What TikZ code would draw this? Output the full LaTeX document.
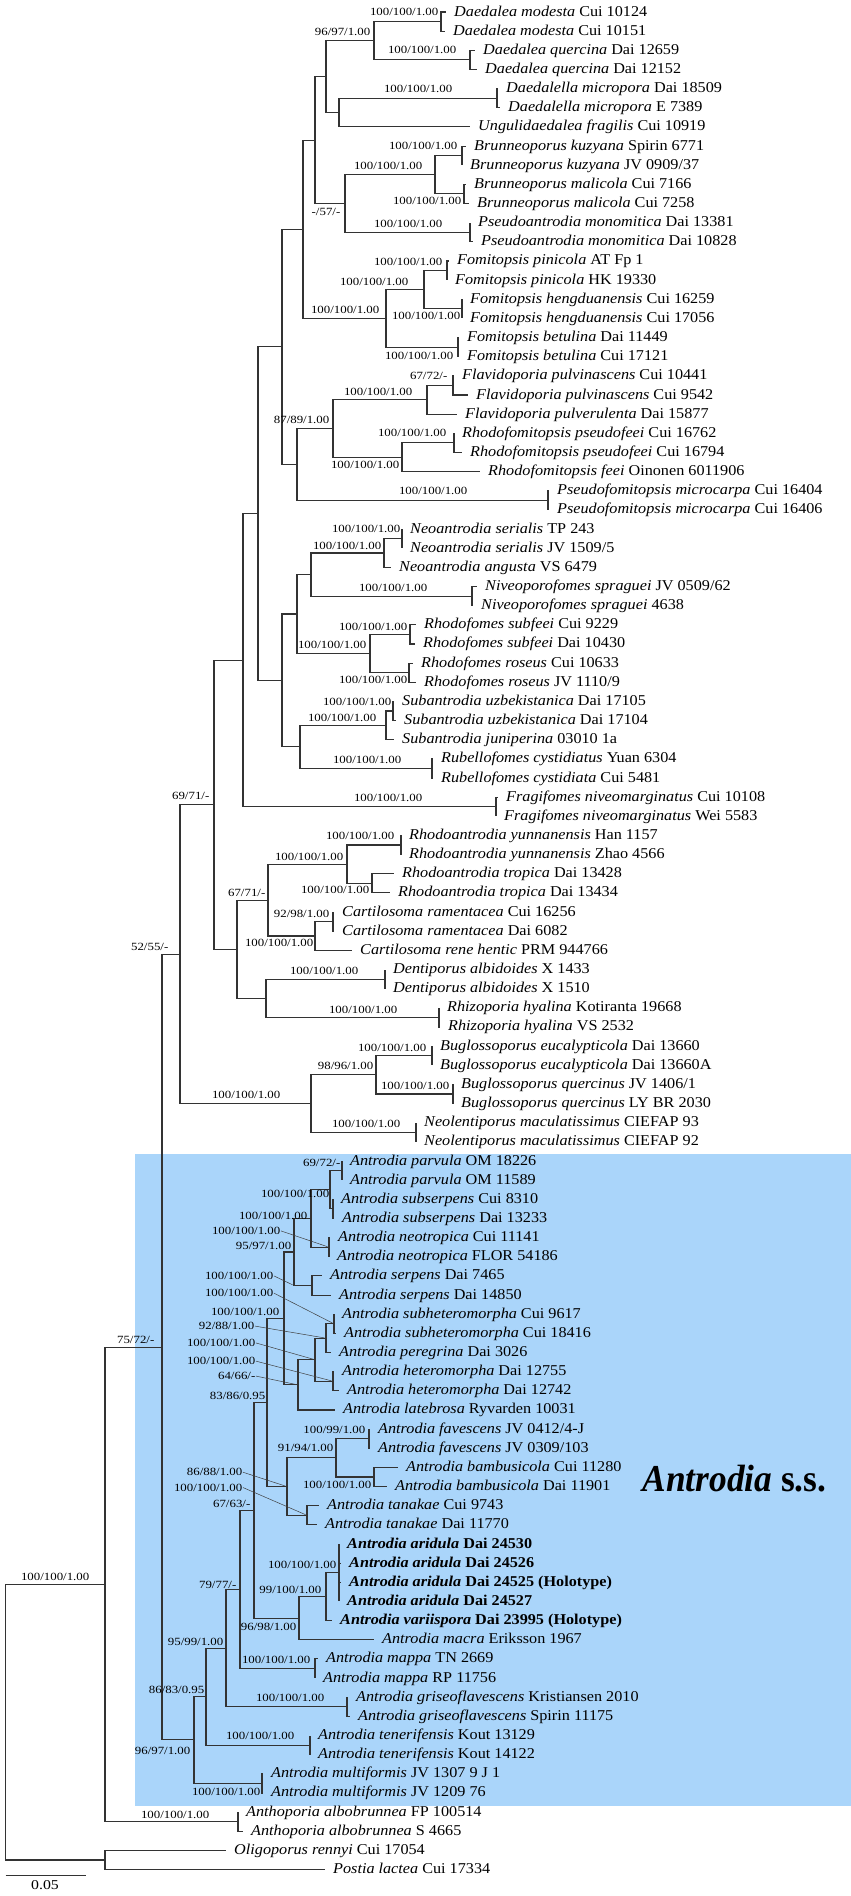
\documentclass[tikz,border=0pt]{standalone}
\usepackage{fontspec}
\setmainfont{Liberation Serif}
\newfontfamily\leaffont[FakeStretch=1.08]{Liberation Serif}
\newfontfamily\suppfont[FakeStretch=1.17]{Liberation Serif}
\newfontfamily\cladefont[FakeStretch=0.93]{Liberation Serif}
\definecolor{ssblue}{RGB}{170,213,250}
\newcommand{\taxon}[2]{\textit{#1} #2}
\newcommand{\newtaxon}[2]{\textbf{\textit{#1} #2}}
\tikzset{
  branch/.style={draw=black!80, line width=1.1bp},
  leader/.style={draw=black!75, line width=0.5bp, shorten >=1.5bp},
  leaf/.style={anchor=west, inner xsep=8bp, inner ysep=0pt, text height=8bp, text depth=0pt,
    font=\leaffont\fontsize{15bp}{17bp}\selectfont},
  supp/.style={anchor=east, inner sep=0.5bp, text height=7.3bp, text depth=0pt,
    font=\suppfont\fontsize{11bp}{12bp}\selectfont},
}

\begin{document}
\begin{tikzpicture}[x=1bp, y=-19.15bp]
  \useasboundingbox (0,0.3734) rectangle (851,99.38);
  \fill[ssblue] (135,60.64) rectangle (851,94.68);

  % leaves
  \node[leaf] (l1) at (446,1){\taxon{Daedalea modesta}{Cui 10124}};
  \node[leaf] (l2) at (445,2){\taxon{Daedalea modesta}{Cui 10151}};
  \node[leaf] (l3) at (475,3){\taxon{Daedalea quercina}{Dai 12659}};
  \node[leaf] (l4) at (477,4){\taxon{Daedalea quercina}{Dai 12152}};
  \node[leaf] (l5) at (498,5){\taxon{Daedalella micropora}{Dai 18509}};
  \node[leaf] (l6) at (500,6){\taxon{Daedalella micropora}{E 7389}};
  \node[leaf] (l7) at (470,7){\taxon{Ungulidaedalea fragilis}{Cui 10919}};
  \node[leaf] (l8) at (466,8){\taxon{Brunneoporus kuzyana}{Spirin 6771}};
  \node[leaf] (l9) at (462,9){\taxon{Brunneoporus kuzyana}{JV 0909/37}};
  \node[leaf] (l10) at (466,10){\taxon{Brunneoporus malicola}{Cui 7166}};
  \node[leaf] (l11) at (469,11){\taxon{Brunneoporus malicola}{Cui 7258}};
  \node[leaf] (l12) at (470,12){\taxon{Pseudoantrodia monomitica}{Dai 13381}};
  \node[leaf] (l13) at (473,13){\taxon{Pseudoantrodia monomitica}{Dai 10828}};
  \node[leaf] (l14) at (449,14){\taxon{Fomitopsis pinicola}{AT Fp 1}};
  \node[leaf] (l15) at (447,15){\taxon{Fomitopsis pinicola}{HK 19330}};
  \node[leaf] (l16) at (462,16){\taxon{Fomitopsis hengduanensis}{Cui 16259}};
  \node[leaf] (l17) at (462,17){\taxon{Fomitopsis hengduanensis}{Cui 17056}};
  \node[leaf] (l18) at (459,18){\taxon{Fomitopsis betulina}{Dai 11449}};
  \node[leaf] (l19) at (459,19){\taxon{Fomitopsis betulina}{Cui 17121}};
  \node[leaf] (l20) at (454,20){\taxon{Flavidoporia pulvinascens}{Cui 10441}};
  \node[leaf] (l21) at (468,21){\taxon{Flavidoporia pulvinascens}{Cui 9542}};
  \node[leaf] (l22) at (457,22){\taxon{Flavidoporia pulverulenta}{Dai 15877}};
  \node[leaf] (l23) at (454,23){\taxon{Rhodofomitopsis pseudofeei}{Cui 16762}};
  \node[leaf] (l24) at (462,24){\taxon{Rhodofomitopsis pseudofeei}{Cui 16794}};
  \node[leaf] (l25) at (480,25){\taxon{Rhodofomitopsis feei}{Oinonen 6011906}};
  \node[leaf] (l26) at (549,26){\taxon{Pseudofomitopsis microcarpa}{Cui 16404}};
  \node[leaf] (l27) at (549,27){\taxon{Pseudofomitopsis microcarpa}{Cui 16406}};
  \node[leaf] (l28) at (402,28){\taxon{Neoantrodia serialis}{TP 243}};
  \node[leaf] (l29) at (402,29){\taxon{Neoantrodia serialis}{JV 1509/5}};
  \node[leaf] (l30) at (391,30){\taxon{Neoantrodia angusta}{VS 6479}};
  \node[leaf] (l31) at (477,31){\taxon{Niveoporofomes spraguei}{JV 0509/62}};
  \node[leaf] (l32) at (473,32){\taxon{Niveoporofomes spraguei}{4638}};
  \node[leaf] (l33) at (416,33){\taxon{Rhodofomes subfeei}{Cui 9229}};
  \node[leaf] (l34) at (415,34){\taxon{Rhodofomes subfeei}{Dai 10430}};
  \node[leaf] (l35) at (413,35){\taxon{Rhodofomes roseus}{Cui 10633}};
  \node[leaf] (l36) at (416,36){\taxon{Rhodofomes roseus}{JV 1110/9}};
  \node[leaf] (l37) at (394,37){\taxon{Subantrodia uzbekistanica}{Dai 17105}};
  \node[leaf] (l38) at (396,38){\taxon{Subantrodia uzbekistanica}{Dai 17104}};
  \node[leaf] (l39) at (394,39){\taxon{Subantrodia juniperina}{03010 1a}};
  \node[leaf] (l40) at (433,40){\taxon{Rubellofomes cystidiatus}{Yuan 6304}};
  \node[leaf] (l41) at (433,41){\taxon{Rubellofomes cystidiata}{Cui 5481}};
  \node[leaf] (l42) at (498,42){\taxon{Fragifomes niveomarginatus}{Cui 10108}};
  \node[leaf] (l43) at (496,43){\taxon{Fragifomes niveomarginatus}{Wei 5583}};
  \node[leaf] (l44) at (401,44){\taxon{Rhodoantrodia yunnanensis}{Han 1157}};
  \node[leaf] (l45) at (401,45){\taxon{Rhodoantrodia yunnanensis}{Zhao 4566}};
  \node[leaf] (l46) at (394,46){\taxon{Rhodoantrodia tropica}{Dai 13428}};
  \node[leaf] (l47) at (390,47){\taxon{Rhodoantrodia tropica}{Dai 13434}};
  \node[leaf] (l48) at (334,48){\taxon{Cartilosoma ramentacea}{Cui 16256}};
  \node[leaf] (l49) at (334,49){\taxon{Cartilosoma ramentacea}{Dai 6082}};
  \node[leaf] (l50) at (352,50){\taxon{Cartilosoma rene hentic}{PRM 944766}};
  \node[leaf] (l51) at (385,51){\taxon{Dentiporus albidoides}{X 1433}};
  \node[leaf] (l52) at (385,52){\taxon{Dentiporus albidoides}{X 1510}};
  \node[leaf] (l53) at (439,53){\taxon{Rhizoporia hyalina}{Kotiranta 19668}};
  \node[leaf] (l54) at (440,54){\taxon{Rhizoporia hyalina}{VS 2532}};
  \node[leaf] (l55) at (432,55){\taxon{Buglossoporus eucalypticola}{Dai 13660}};
  \node[leaf] (l56) at (432,56){\taxon{Buglossoporus eucalypticola}{Dai 13660A}};
  \node[leaf] (l57) at (453,57){\taxon{Buglossoporus quercinus}{JV 1406/1}};
  \node[leaf] (l58) at (453,58){\taxon{Buglossoporus quercinus}{LY BR 2030}};
  \node[leaf] (l59) at (416,59){\taxon{Neolentiporus maculatissimus}{CIEFAP 93}};
  \node[leaf] (l60) at (416,60){\taxon{Neolentiporus maculatissimus}{CIEFAP 92}};
  \node[leaf] (l61) at (342,61){\taxon{Antrodia parvula}{OM 18226}};
  \node[leaf] (l62) at (342,62){\taxon{Antrodia parvula}{OM 11589}};
  \node[leaf] (l63) at (333,63){\taxon{Antrodia subserpens}{Cui 8310}};
  \node[leaf] (l64) at (334,64){\taxon{Antrodia subserpens}{Dai 13233}};
  \node[leaf] (l65) at (330,65){\taxon{Antrodia neotropica}{Cui 11141}};
  \node[leaf] (l66) at (329,66){\taxon{Antrodia neotropica}{FLOR 54186}};
  \node[leaf] (l67) at (322,67){\taxon{Antrodia serpens}{Dai 7465}};
  \node[leaf] (l68) at (331,68){\taxon{Antrodia serpens}{Dai 14850}};
  \node[leaf] (l69) at (334,69){\taxon{Antrodia subheteromorpha}{Cui 9617}};
  \node[leaf] (l70) at (336,70){\taxon{Antrodia subheteromorpha}{Cui 18416}};
  \node[leaf] (l71) at (331,71){\taxon{Antrodia peregrina}{Dai 3026}};
  \node[leaf] (l72) at (334,72){\taxon{Antrodia heteromorpha}{Dai 12755}};
  \node[leaf] (l73) at (339,73){\taxon{Antrodia heteromorpha}{Dai 12742}};
  \node[leaf] (l74) at (335,74){\taxon{Antrodia latebrosa}{Ryvarden 10031}};
  \node[leaf] (l75) at (370,75){\taxon{Antrodia favescens}{JV 0412/4-J}};
  \node[leaf] (l76) at (370,76){\taxon{Antrodia favescens}{JV 0309/103}};
  \node[leaf] (l77) at (398,77){\taxon{Antrodia bambusicola}{Cui 11280}};
  \node[leaf] (l78) at (387,78){\taxon{Antrodia bambusicola}{Dai 11901}};
  \node[leaf] (l79) at (319,79){\taxon{Antrodia tanakae}{Cui 9743}};
  \node[leaf] (l80) at (317,80){\taxon{Antrodia tanakae}{Dai 11770}};
  \node[leaf] (l81) at (339,81){\newtaxon{Antrodia aridula}{Dai 24530}};
  \node[leaf] (l82) at (341,82){\newtaxon{Antrodia aridula}{Dai 24526}};
  \node[leaf] (l83) at (341,83){\newtaxon{Antrodia aridula}{Dai 24525 (Holotype)}};
  \node[leaf] (l84) at (339,84){\newtaxon{Antrodia aridula}{Dai 24527}};
  \node[leaf] (l85) at (332,85){\newtaxon{Antrodia variispora}{Dai 23995 (Holotype)}};
  \node[leaf] (l86) at (374,86){\taxon{Antrodia macra}{Eriksson 1967}};
  \node[leaf] (l87) at (318,87){\taxon{Antrodia mappa}{TN 2669}};
  \node[leaf] (l88) at (315,88){\taxon{Antrodia mappa}{RP 11756}};
  \node[leaf] (l89) at (348,89){\taxon{Antrodia griseoflavescens}{Kristiansen 2010}};
  \node[leaf] (l90) at (350,90){\taxon{Antrodia griseoflavescens}{Spirin 11175}};
  \node[leaf] (l91) at (310,91){\taxon{Antrodia tenerifensis}{Kout 13129}};
  \node[leaf] (l92) at (310,92){\taxon{Antrodia tenerifensis}{Kout 14122}};
  \node[leaf] (l93) at (263,93){\taxon{Antrodia multiformis}{JV 1307 9 J 1}};
  \node[leaf] (l94) at (263,94){\taxon{Antrodia multiformis}{JV 1209 76}};
  \node[leaf] (l95) at (238,95){\taxon{Anthoporia albobrunnea}{FP 100514}};
  \node[leaf] (l96) at (243,96){\taxon{Anthoporia albobrunnea}{S 4665}};
  \node[leaf] (l97) at (226,97){\taxon{Oligoporus rennyi}{Cui 17054}};
  \node[leaf] (l98) at (325,98){\taxon{Postia lactea}{Cui 17334}};

  % internal nodes
  \coordinate (dmod) at (441,1.5);
  \coordinate (dque) at (470,3.5);
  \coordinate (daed) at (374,2.5);
  \coordinate (dmic) at (497,5.5);
  \coordinate (dmu) at (339,6.25);
  \coordinate (dgrp) at (326,4.375);
  \coordinate (bkuz) at (462,8.5);
  \coordinate (bmal) at (464,10.5);
  \coordinate (brun) at (435,9.5);
  \coordinate (pmon) at (470,12.5);
  \coordinate (bpgrp) at (345,11);
  \coordinate (dbgrp) at (315,7.6875);
  \coordinate (fpin) at (447,14.5);
  \coordinate (fhen) at (462,16.5);
  \coordinate (fph) at (424,15.5);
  \coordinate (fbet) at (458,18.5);
  \coordinate (fomi) at (386,17);
  \coordinate (n13) at (303,12.344);
  \coordinate (fpul) at (453,20.5);
  \coordinate (flav) at (427,21.25);
  \coordinate (rpse) at (454,23.5);
  \coordinate (rhfo) at (402,24.25);
  \coordinate (n24) at (333,22.75);
  \coordinate (pfom) at (548,26.5);
  \coordinate (n26) at (297,24.625);
  \coordinate (n19) at (282,18.484);
  \coordinate (nser) at (402,28.5);
  \coordinate (neoa) at (384,29.25);
  \coordinate (nivo) at (472,31.5);
  \coordinate (n31) at (311,30.375);
  \coordinate (rsub) at (410,33.5);
  \coordinate (rros) at (409,35.5);
  \coordinate (rhod) at (370,34.5);
  \coordinate (n35) at (297,32.4375);
  \coordinate (suzb) at (393,37.5);
  \coordinate (suba) at (386,38.25);
  \coordinate (rube) at (432,40.5);
  \coordinate (n39) at (300,39.375);
  \coordinate (n40) at (282,35.906);
  \coordinate (n27) at (258,27.195);
  \coordinate (frag) at (496,42.5);
  \coordinate (n41) at (243,34.85);
  \coordinate (ryun) at (401,44.5);
  \coordinate (rtro) at (372,46.5);
  \coordinate (rhan) at (347,45.5);
  \coordinate (cram) at (333,48.5);
  \coordinate (cart) at (315,49.25);
  \coordinate (n49) at (268,47.375);
  \coordinate (dent) at (385,51.5);
  \coordinate (rhiz) at (439,53.5);
  \coordinate (n52) at (266,52.5);
  \coordinate (n43) at (237,49.94);
  \coordinate (nD) at (214,42.39);
  \coordinate (beuc) at (432,55.5);
  \coordinate (bque) at (453,57.5);
  \coordinate (bugl) at (376,56.5);
  \coordinate (neol) at (416,59.5);
  \coordinate (nE) at (311,58);
  \coordinate (nC) at (180,50.2);
  \coordinate (parv) at (342,61.5);
  \coordinate (subs) at (333,63.5);
  \coordinate (ps) at (330,62.5);
  \coordinate (neot) at (329,65.5);
  \coordinate (n56) at (311,64);
  \coordinate (serp) at (312,67.5);
  \coordinate (n58) at (294,65.75);
  \coordinate (serpj) at (294,67.5);
  \coordinate (shet) at (334,69.5);
  \coordinate (shp) at (326,70.25);
  \coordinate (hete) at (333,72.5);
  \coordinate (n60) at (315,71.375);
  \coordinate (n61) at (298,72.69);
  \coordinate (n62) at (284,69.22);
  \coordinate (fave) at (369,75.5);
  \coordinate (bamb) at (374,77.5);
  \coordinate (fb) at (336,76.5);
  \coordinate (tana) at (307,79.5);
  \coordinate (n64) at (287,78);
  \coordinate (n63) at (267,73.61);
  \coordinate (arid) at (339,82.5);
  \coordinate (av) at (326,83.75);
  \coordinate (n67) at (299,84.875);
  \coordinate (n65) at (254,79.24);
  \coordinate (mapp) at (315,87.5);
  \coordinate (n68) at (240,83.37);
  \coordinate (gris) at (347,89.5);
  \coordinate (n69) at (226,86.44);
  \coordinate (tene) at (310,91.5);
  \coordinate (n70) at (206,88.97);
  \coordinate (mult) at (262,93.5);
  \coordinate (n71) at (194,91.23);
  \coordinate (nB) at (162,70.72);
  \coordinate (anth) at (238,95.5);
  \coordinate (nA) at (105,83.11);
  \coordinate (outg) at (105,97.5);
  \coordinate (root) at (5.5,90.3);

  % branches
  \draw[branch] (dmod) |- (l1.west) (dmod) |- (l2.west);
  \draw[branch] (dque) |- (l3.west) (dque) |- (l4.west);
  \draw[branch] (daed) |- (dmod) (daed) |- (dque);
  \draw[branch] (dmic) |- (l5.west) (dmic) |- (l6.west);
  \draw[branch] (dmu) |- (dmic) (dmu) |- (l7.west);
  \draw[branch] (dgrp) |- (daed) (dgrp) |- (dmu);
  \draw[branch] (bkuz) |- (l8.west) (bkuz) |- (l9.west);
  \draw[branch] (bmal) |- (l10.west) (bmal) |- (l11.west);
  \draw[branch] (brun) |- (bkuz) (brun) |- (bmal);
  \draw[branch] (pmon) |- (l12.west) (pmon) |- (l13.west);
  \draw[branch] (bpgrp) |- (brun) (bpgrp) |- (pmon);
  \draw[branch] (dbgrp) |- (dgrp) (dbgrp) |- (bpgrp);
  \draw[branch] (fpin) |- (l14.west) (fpin) |- (l15.west);
  \draw[branch] (fhen) |- (l16.west) (fhen) |- (l17.west);
  \draw[branch] (fph) |- (fpin) (fph) |- (fhen);
  \draw[branch] (fbet) |- (l18.west) (fbet) |- (l19.west);
  \draw[branch] (fomi) |- (fph) (fomi) |- (fbet);
  \draw[branch] (n13) |- (dbgrp) (n13) |- (fomi);
  \draw[branch] (fpul) |- (l20.west) (fpul) |- (l21.west);
  \draw[branch] (flav) |- (fpul) (flav) |- (l22.west);
  \draw[branch] (rpse) |- (l23.west) (rpse) |- (l24.west);
  \draw[branch] (rhfo) |- (rpse) (rhfo) |- (l25.west);
  \draw[branch] (n24) |- (flav) (n24) |- (rhfo);
  \draw[branch] (pfom) |- (l26.west) (pfom) |- (l27.west);
  \draw[branch] (n26) |- (n24) (n26) |- (pfom);
  \draw[branch] (n19) |- (n13) (n19) |- (n26);
  \draw[branch] (nser) |- (l28.west) (nser) |- (l29.west);
  \draw[branch] (neoa) |- (nser) (neoa) |- (l30.west);
  \draw[branch] (nivo) |- (l31.west) (nivo) |- (l32.west);
  \draw[branch] (n31) |- (neoa) (n31) |- (nivo);
  \draw[branch] (rsub) |- (l33.west) (rsub) |- (l34.west);
  \draw[branch] (rros) |- (l35.west) (rros) |- (l36.west);
  \draw[branch] (rhod) |- (rsub) (rhod) |- (rros);
  \draw[branch] (n35) |- (n31) (n35) |- (rhod);
  \draw[branch] (suzb) |- (l37.west) (suzb) |- (l38.west);
  \draw[branch] (suba) |- (suzb) (suba) |- (l39.west);
  \draw[branch] (rube) |- (l40.west) (rube) |- (l41.west);
  \draw[branch] (n39) |- (suba) (n39) |- (rube);
  \draw[branch] (n40) |- (n35) (n40) |- (n39);
  \draw[branch] (n27) |- (n19) (n27) |- (n40);
  \draw[branch] (frag) |- (l42.west) (frag) |- (l43.west);
  \draw[branch] (n41) |- (n27) (n41) |- (frag);
  \draw[branch] (ryun) |- (l44.west) (ryun) |- (l45.west);
  \draw[branch] (rtro) |- (l46.west) (rtro) |- (l47.west);
  \draw[branch] (rhan) |- (ryun) (rhan) |- (rtro);
  \draw[branch] (cram) |- (l48.west) (cram) |- (l49.west);
  \draw[branch] (cart) |- (cram) (cart) |- (l50.west);
  \draw[branch] (n49) |- (rhan) (n49) |- (cart);
  \draw[branch] (dent) |- (l51.west) (dent) |- (l52.west);
  \draw[branch] (rhiz) |- (l53.west) (rhiz) |- (l54.west);
  \draw[branch] (n52) |- (dent) (n52) |- (rhiz);
  \draw[branch] (n43) |- (n49) (n43) |- (n52);
  \draw[branch] (nD) |- (n41) (nD) |- (n43);
  \draw[branch] (beuc) |- (l55.west) (beuc) |- (l56.west);
  \draw[branch] (bque) |- (l57.west) (bque) |- (l58.west);
  \draw[branch] (bugl) |- (beuc) (bugl) |- (bque);
  \draw[branch] (neol) |- (l59.west) (neol) |- (l60.west);
  \draw[branch] (nE) |- (bugl) (nE) |- (neol);
  \draw[branch] (nC) |- (nD) (nC) |- (nE);
  \draw[branch] (parv) |- (l61.west) (parv) |- (l62.west);
  \draw[branch] (subs) |- (l63.west) (subs) |- (l64.west);
  \draw[branch] (ps) |- (parv) (ps) |- (subs);
  \draw[branch] (neot) |- (l65.west) (neot) |- (l66.west);
  \draw[branch] (n56) |- (ps) (n56) |- (neot);
  \draw[branch] (serp) |- (l67.west) (serp) |- (l68.west);
  \draw[branch] (n58) |- (n56) (n58) |- (serp);
  \draw[branch] (shet) |- (l69.west) (shet) |- (l70.west);
  \draw[branch] (shp) |- (shet) (shp) |- (l71.west);
  \draw[branch] (hete) |- (l72.west) (hete) |- (l73.west);
  \draw[branch] (n60) |- (shp) (n60) |- (hete);
  \draw[branch] (n61) |- (n60) (n61) |- (l74.west);
  \draw[branch] (n62) |- (n58) (n62) |- (n61);
  \draw[branch] (fave) |- (l75.west) (fave) |- (l76.west);
  \draw[branch] (bamb) |- (l77.west) (bamb) |- (l78.west);
  \draw[branch] (fb) |- (fave) (fb) |- (bamb);
  \draw[branch] (tana) |- (l79.west) (tana) |- (l80.west);
  \draw[branch] (n64) |- (fb) (n64) |- (tana);
  \draw[branch] (n63) |- (n62) (n63) |- (n64);
  \draw[branch] (arid) |- (l81.west) (arid) |- (l82.west) (arid) |- (l83.west) (arid) |- (l84.west);
  \draw[branch] (av) |- (arid) (av) |- (l85.west);
  \draw[branch] (n67) |- (av) (n67) |- (l86.west);
  \draw[branch] (n65) |- (n63) (n65) |- (n67);
  \draw[branch] (mapp) |- (l87.west) (mapp) |- (l88.west);
  \draw[branch] (n68) |- (n65) (n68) |- (mapp);
  \draw[branch] (gris) |- (l89.west) (gris) |- (l90.west);
  \draw[branch] (n69) |- (n68) (n69) |- (gris);
  \draw[branch] (tene) |- (l91.west) (tene) |- (l92.west);
  \draw[branch] (n70) |- (n69) (n70) |- (tene);
  \draw[branch] (mult) |- (l93.west) (mult) |- (l94.west);
  \draw[branch] (n71) |- (n70) (n71) |- (mult);
  \draw[branch] (nB) |- (nC) (nB) |- (n71);
  \draw[branch] (anth) |- (l95.west) (anth) |- (l96.west);
  \draw[branch] (nA) |- (nB) (nA) |- (anth);
  \draw[branch] (outg) |- (l97.west) (outg) |- (l98.west);
  \draw[branch] (root) |- (nA) (root) |- (outg);

  % support values
  \node[supp] (s1) at (439,1.0){100/100/1.00};
  \node[supp] (s2) at (371,2.04){96/97/1.00};
  \node[supp] (s3) at (457,2.98){100/100/1.00};
  \node[supp] (s4) at (453,5.02){100/100/1.00};
  \node[supp] (s5) at (458,8.0){100/100/1.00};
  \node[supp] (s6) at (423,9.04){100/100/1.00};
  \node[supp] (s7) at (462,10.87){100/100/1.00};
  \node[supp] (s8) at (341,11.44){-/57/-};
  \node[supp] (s9) at (443,12.07){100/100/1.00};
  \node[supp] (s10) at (443,14.05){100/100/1.00};
  \node[supp] (s11) at (409,15.1){100/100/1.00};
  \node[supp] (s12) at (461,16.87){100/100/1.00};
  \node[supp] (s13) at (380,16.56){100/100/1.00};
  \node[supp] (s14) at (454,18.96){100/100/1.00};
  \node[supp] (s15) at (448,20.0){67/72/-};
  \node[supp] (s16) at (413,20.84){100/100/1.00};
  \node[supp] (s17) at (330,22.3){87/89/1.00};
  \node[supp] (s18) at (447,23.0){100/100/1.00};
  \node[supp] (s19) at (400,24.66){100/100/1.00};
  \node[supp] (s20) at (468,26.01){100/100/1.00};
  \node[supp] (s21) at (401,28.0){100/100/1.00};
  \node[supp] (s22) at (382,28.88){100/100/1.00};
  \node[supp] (s23) at (428,31.08){100/100/1.00};
  \node[supp] (s24) at (408,33.1){100/100/1.00};
  \node[supp] (s25) at (367,34.05){100/100/1.00};
  \node[supp] (s26) at (408,35.88){100/100/1.00};
  \node[supp] (s27) at (392,37.03){100/100/1.00};
  \node[supp] (s28) at (377,37.87){100/100/1.00};
  \node[supp] (s29) at (402,40.06){100/100/1.00};
  \node[supp] (s30) at (423,42.04){100/100/1.00};
  \node[supp] (s31) at (210,41.95){69/71/-};
  \node[supp] (s32) at (395,44.03){100/100/1.00};
  \node[supp] (s33) at (344,45.1){100/100/1.00};
  \node[supp] (s34) at (370,46.85){100/100/1.00};
  \node[supp] (s35) at (266,47.0){67/71/-};
  \node[supp] (s36) at (330,48.1){92/98/1.00};
  \node[supp] (s37) at (314,49.62){100/100/1.00};
  \node[supp] (s38) at (169,49.82){52/55/-};
  \node[supp] (s39) at (359,51.08){100/100/1.00};
  \node[supp] (s40) at (398,53.11){100/100/1.00};
  \node[supp] (s41) at (427,55.1){100/100/1.00};
  \node[supp] (s42) at (374,56.04){98/96/1.00};
  \node[supp] (s43) at (450,57.08){100/100/1.00};
  \node[supp] (s44) at (281,57.55){100/100/1.00};
  \node[supp] (s45) at (401,59.07){100/100/1.00};
  \node[supp] (s46) at (341,61.1){69/72/-};
  \node[supp] (s47) at (330,62.72){100/100/1.00};
  \node[supp] (s48) at (308,63.87){100/100/1.00};
  \node[supp] (s49) at (281,64.65){100/100/1.00};
  \node[supp] (s50) at (292,65.44){95/97/1.00};
  \node[supp] (s51) at (274,67.0){100/100/1.00};
  \node[supp] (s52) at (274,67.9){100/100/1.00};
  \node[supp] (s53) at (280,68.88){100/100/1.00};
  \node[supp] (s54) at (255,69.62){92/88/1.00};
  \node[supp] (s55) at (256,70.5){100/100/1.00};
  \node[supp] (s56) at (256,71.45){100/100/1.00};
  \node[supp] (s57) at (256,72.23){64/66/-};
  \node[supp] (s58) at (266,73.27){83/86/0.95};
  \node[supp] (s59) at (366,75.05){100/99/1.00};
  \node[supp] (s60) at (334,76.0){91/94/1.00};
  \node[supp] (s61) at (372,77.9){100/100/1.00};
  \node[supp] (s62) at (243,77.25){86/88/1.00};
  \node[supp] (s63) at (243,78.05){100/100/1.00};
  \node[supp] (s64) at (251,78.91){67/63/-};
  \node[supp] (s65) at (337,82.1){100/100/1.00};
  \node[supp] (s66) at (237,83.14){79/77/-};
  \node[supp] (s67) at (322,83.4){99/100/1.00};
  \node[supp] (s68) at (297,85.33){96/98/1.00};
  \node[supp] (s69) at (224,86.1){95/99/1.00};
  \node[supp] (s70) at (311,87.06){100/100/1.00};
  \node[supp] (s71) at (205,88.62){86/83/0.95};
  \node[supp] (s72) at (325,89.04){100/100/1.00};
  \node[supp] (s73) at (295,91.03){100/100/1.00};
  \node[supp] (s74) at (191,91.81){96/97/1.00};
  \node[supp] (s75) at (261,93.95){100/100/1.00};
  \node[supp] (s76) at (155,70.35){75/72/-};
  \node[supp] (s77) at (90,82.7){100/100/1.00};
  \node[supp] (s78) at (210,95.15){100/100/1.00};

  % leader lines
  \draw[leader] (s49.east) -- (neot);
  \draw[leader] (s51.east) -- (serpj);
  \draw[leader] (s52.east) -- (shet);
  \draw[leader] (s54.east) -- (shp);
  \draw[leader] (s55.east) -- (n60);
  \draw[leader] (s56.east) -- (hete);
  \draw[leader] (s57.east) -- (n61);
  \draw[leader] (s62.east) -- (n64);
  \draw[leader] (s63.east) -- (tana);

  \node[font=\cladefont\bfseries\fontsize{38bp}{40bp}\selectfont] (clade) at (734.5,77.6){\textit{Antrodia} s.s.};

  % scale bar
  \coordinate (sb1) at (5.5,98.28);
  \coordinate (sb2) at (86,98.28);
  \draw[line width=0.9bp, black!80] (sb1) -- (sb2);
  \node[font=\suppfont\fontsize{13.5bp}{14bp}\selectfont] (sblabel) at (45,98.82){0.05};
\end{tikzpicture}
\end{document}
